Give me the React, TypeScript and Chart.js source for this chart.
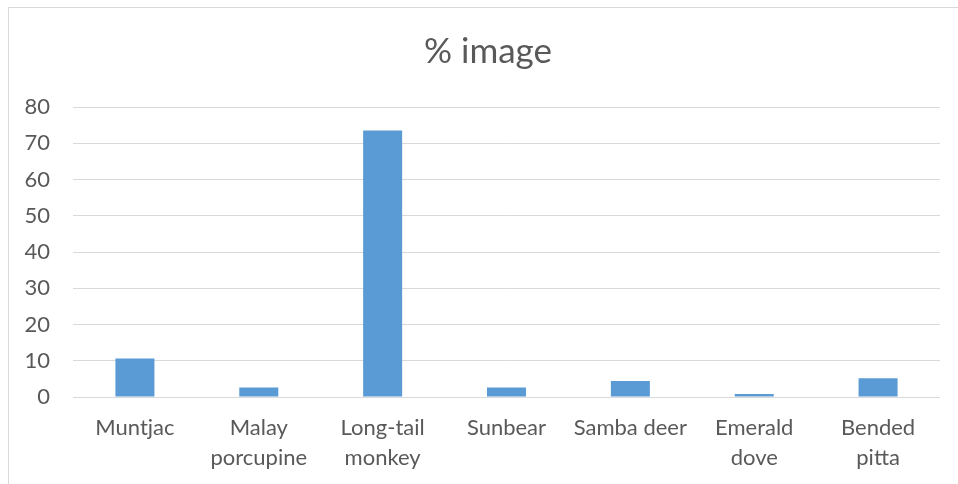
import React, { useEffect, useRef } from "react";
import { Chart, registerables } from "chart.js";

Chart.register(...registerables);

const categories: (string | string[])[] = [
  "Muntjac",
  ["Malay", "porcupine"],
  ["Long-tail", "monkey"],
  "Sunbear",
  "Samba deer",
  ["Emerald", "dove"],
  ["Bended", "pitta"],
];
const imagePercent = [10.6, 2.6, 73.5, 2.6, 4.4, 0.8, 5.2];
const chartTitle = "% image";
const yMin = 0;
const yMax = 80;
const yStep = 10;

const FONT = "Lato, 'Open Sans', sans-serif";
const TEXT = "#595959";

export default function App() {
  const ref = useRef<HTMLCanvasElement | null>(null);
  useEffect(() => {
    if (!ref.current) return;
    const titlePlugin = {
      id: "customTitle",
      afterDraw(chart: any) {
        const ctx = chart.ctx;
        ctx.save();
        ctx.font = `35px ${FONT}`;
        ctx.fillStyle = TEXT;
        ctx.textAlign = "center";
        ctx.textBaseline = "middle";
        ctx.fillText(chartTitle, 488, 52);
        ctx.restore();
      },
    };
    const chart = new Chart(ref.current, {
      type: "bar",
      data: {
        labels: categories,
        datasets: [
          {
            label: chartTitle,
            data: imagePercent,
            backgroundColor: "#5b9bd5",
            borderWidth: 0,
            barPercentage: 0.315,
            categoryPercentage: 1,
          },
        ],
      },
      options: {
        animation: false,
        responsive: false,
        maintainAspectRatio: false,
        layout: { padding: { left: 0, right: 18, top: 107, bottom: 0 } },
        plugins: {
          legend: { display: false },
          title: { display: false },
          tooltip: { enabled: false },
        },
        scales: {
          x: {
            grid: { display: false, drawTicks: false },
            border: { display: false },
            ticks: {
              color: TEXT,
              font: { family: FONT, size: 22, lineHeight: 1.36 },
              padding: 16,
              maxRotation: 0,
              autoSkip: false,
            },
            afterFit(scale: any) {
              scale.height = 87;
            },
          },
          y: {
            min: yMin,
            max: yMax,
            grid: { color: "#d9d9d9", lineWidth: 1, drawTicks: false, tickLength: 0 },
            border: { display: false },
            ticks: {
              stepSize: yStep,
              color: TEXT,
              font: { family: FONT, size: 22 },
              padding: 23,
            },
            afterFit(scale: any) {
              scale.width = 73;
            },
          },
        },
      },
      plugins: [titlePlugin],
    });
    return () => chart.destroy();
  }, []);

  return (
    <div
      style={{
        position: "fixed",
        left: 0,
        top: 0,
        width: 958,
        height: 484,
        overflow: "hidden",
        background: "#fff",
      }}
    >
      <div
        style={{
          position: "absolute",
          left: 8,
          top: 7,
          width: 1000,
          height: 520,
          border: "1px solid #d9d9d9",
        }}
      />
      <canvas
        ref={ref}
        width={958}
        height={484}
        style={{ position: "absolute", left: 0, top: 0, width: 958, height: 484 }}
      />
    </div>
  );
}
